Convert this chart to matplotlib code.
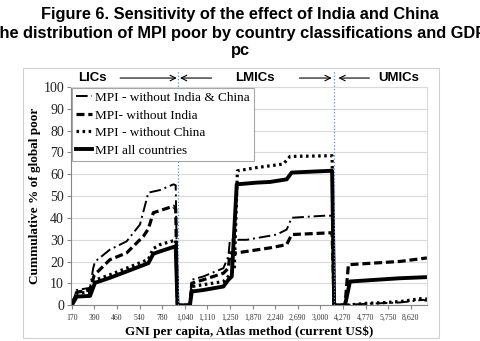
import matplotlib
matplotlib.use("Agg")
import matplotlib.pyplot as plt
from matplotlib.patches import Rectangle

# category positions (0..15 = tick labels) and cumulative % of global MPI poor
gni_labels = ["170", "390", "460", "540", "780", "1,040", "1,110", "1,250",
              "1,870", "2,240", "2,690", "3,000", "4,270", "4,770", "5,750", "8,620"]
group_bounds = [4.70, 11.60]

x_all = [0, 0.22, 0.81, 1.03, 1.69, 2.43, 3.39, 3.61, 3.91, 4.50, 4.60, 4.68, 5.23,
         5.31, 5.82, 6.71, 6.93, 7.08, 7.30, 8.19, 8.77, 9.51, 9.73, 11.43, 11.52,
         11.61, 12.09, 12.31, 14.53, 15.71]
y_all = [0, 4, 4.3, 10.3, 12.6, 15.5, 19.3, 23.6, 24.7, 26.7, 27, 0, 0,
         6.3, 7, 8.6, 11.7, 13.2, 55.4, 56.2, 56.5, 57.7, 60.8, 61.6, 61.6,
         0, 0, 10.9, 12.4, 12.9]

x_no_china = [0, 0.22, 0.81, 1.03, 1.69, 2.43, 3.39, 3.61, 3.91, 4.50, 4.60, 4.68, 5.23,
              5.31, 6.71, 7.0, 7.19, 7.33, 8.19, 9.36, 9.66, 11.43, 11.52,
              11.61, 12.09, 13.05, 13.77, 14.53, 15.55, 15.71]
y_no_china = [0, 5.5, 6, 11.5, 14, 17, 21, 26, 27.8, 29.6, 30, 0, 0,
              8.6, 10.9, 14, 16.3, 61.6, 63.1, 64.7, 68.2, 68.5, 68.5,
              0, 0, 0.9, 1.2, 1.7, 3.2, 2.8]

x_no_india = [0, 0.22, 0.81, 1.0, 1.16, 1.69, 2.43, 3.17, 3.39, 3.61, 4.50, 4.60, 4.68, 5.23,
              5.31, 5.82, 6.71, 6.93, 7.0, 7.3, 8.77, 9.51, 9.73, 11.43, 11.52,
              11.61, 12.09, 12.24, 14.53, 15.71]
y_no_india = [0, 6, 7, 14, 15.5, 20.9, 24, 31.6, 35, 42.4, 45.4, 44, 0, 0,
              10.1, 11.7, 14.7, 17, 24, 24, 26.3, 27.8, 32.4, 33.2, 33.2,
              0, 0, 18.6, 20.1, 21.7]

x_no_both = [0, 0.22, 0.81, 0.95, 1.03, 1.69, 2.43, 3.02, 3.39, 3.91, 4.50, 4.60, 4.68, 5.23,
             5.31, 5.82, 6.71, 6.93, 7.0, 7.74, 9.07, 9.51, 9.73, 11.28, 11.52,
             11.61, 12.09, 12.31, 13.05, 14.53, 15.55, 15.71]
y_no_both = [0, 7, 8, 17, 20, 25.5, 29.3, 37, 51.6, 52.8, 55.4, 55, 0, 0,
             11.7, 13.2, 17, 22.4, 30, 30, 32.4, 34.7, 40.1, 41.1, 41,
             0, 0, 0.3, 0.7, 1.3, 2.5, 2]

serif = "Liberation Serif"
sans = "Liberation Sans"

fig = plt.figure(figsize=(4.8, 3.41), dpi=100)
ax = fig.add_axes([0.148, 0.1047, 0.7417, 0.6402])

# outer chart frame
fig.patches.append(Rectangle((0.0485, 0.0097), 0.8667, 0.79, transform=fig.transFigure,
                             fill=False, edgecolor="#d0d0d0", lw=0.8))

ax.plot(x_no_both, y_no_both, color="black", lw=1.4, linestyle=(0, (6, 2, 1, 2)),
        label="MPI - without India & China")
ax.plot(x_no_india, y_no_india, color="black", lw=2.3, linestyle=(0, (2.5, 1.2)),
        label="MPI- without India")
ax.plot(x_no_china, y_no_china, color="black", lw=2.3, linestyle=(0, (0.8, 1.1)),
        label="MPI - without China")
ax.plot(x_all, y_all, color="black", lw=2.8, label="MPI all countries")

ax.set_xlim(-0.03, 15.72)
ax.set_ylim(0, 100)
ax.set_yticks(range(0, 101, 10))
ax.set_xticks(range(len(gni_labels)))
ax.set_xticklabels(gni_labels, fontsize=5.6, family=serif, color="#333333")
for t in ax.get_yticklabels():
    t.set_fontfamily(serif)
    t.set_fontsize(10)
    t.set_color("#222222")
ax.tick_params(axis="y", length=3, color="#868686", pad=2)
ax.tick_params(axis="x", length=3, color="#868686", pad=3)
ax.grid(axis="y", color="#d9d9d9", lw=0.8)
ax.set_axisbelow(True)
for side in ["top", "right"]:
    ax.spines[side].set_color("#d9d9d9")
for side in ["left", "bottom"]:
    ax.spines[side].set_color("#868686")

ax.set_ylabel("Cummulative % of global poor", family=serif, fontweight="bold",
              fontsize=9.5, labelpad=2)
ax.set_xlabel("GNI per capita, Atlas method (current US$)", family=serif,
              fontweight="bold", fontsize=9.5, labelpad=3)

leg = ax.legend(loc="upper left", bbox_to_anchor=(0.004, 0.996), borderaxespad=0,
                prop={"family": serif, "size": 9.5}, handlelength=1.2, handletextpad=0.2,
                labelspacing=0.4, borderpad=0.3, fancybox=False, framealpha=1)
leg.get_frame().set_edgecolor("#a6a6a6")
leg.get_frame().set_linewidth(0.8)

# income group boundaries
for b in group_bounds:
    ax.axvline(b, ymin=0, ymax=1.08, color="#5b8fc9", lw=0.9, linestyle=":", clip_on=False)

tr = ax.get_xaxis_transform()
ly = 1.041
for name, xc in [("LICs", 0.90), ("LMICs", 8.10), ("UMICs", 14.45)]:
    ax.text(xc, ly, name, transform=tr, ha="center", va="center", family=sans,
            fontweight="bold", fontsize=9.5)
for x0, x1 in [(2.14, 4.65), (6.19, 4.79), (10.07, 11.50), (13.17, 11.80)]:
    ax.annotate("", xy=(x1, ly), xytext=(x0, ly), xycoords=tr, textcoords=tr,
                arrowprops=dict(arrowstyle="->", color="black", lw=0.8,
                                shrinkA=0, shrinkB=0), annotation_clip=False)

title_lines = ["Figure 6. Sensitivity of the effect of India and China",
               "the distribution of MPI poor by country classifications and GDP",
               "pc"]
for line, yb in zip(title_lines, [19.3, 37.8, 55.2]):
    fig.text(0.5, 1 - yb / 341, line, ha="center", va="baseline", family=sans,
             fontweight="bold", fontsize=11.8)

fig.savefig("out.png", dpi=100)
